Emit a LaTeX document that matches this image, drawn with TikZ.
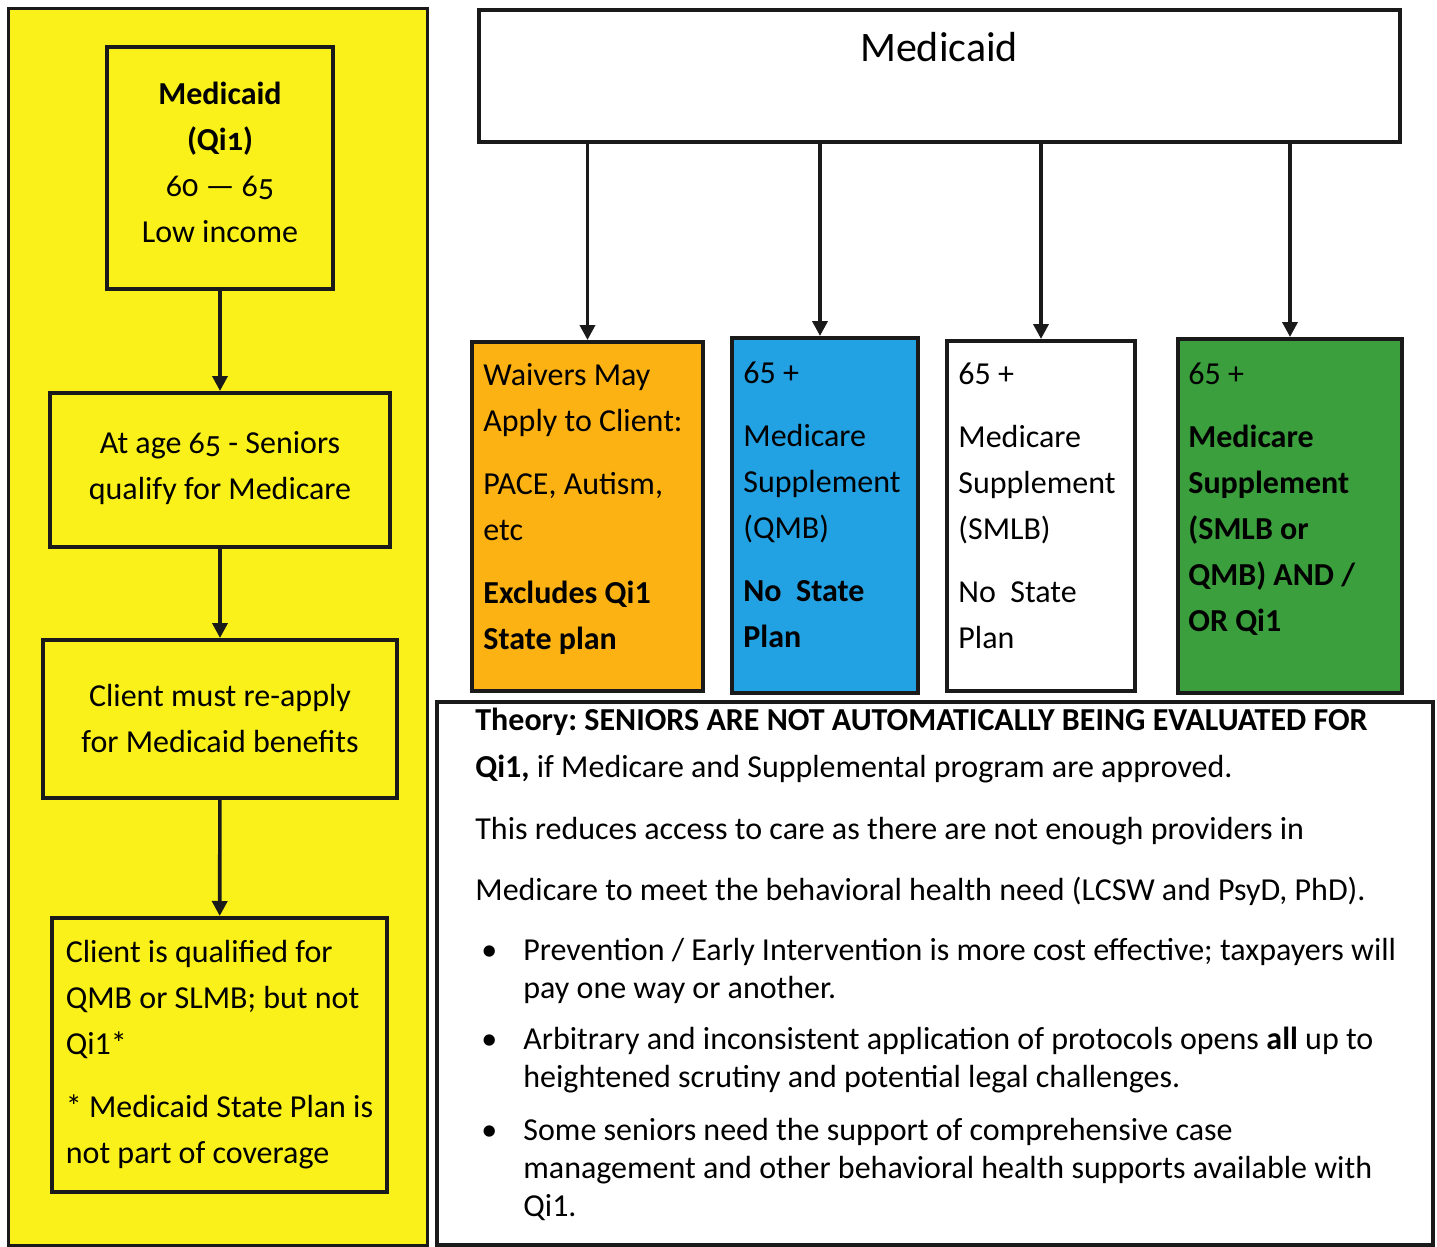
\documentclass[tikz,border=0pt]{standalone}
\usepackage{fontspec}
\setmainfont{Carlito}
\newfontfamily\candfont[Numbers=OldStyle]{Carlito}
\usepackage{tikz}
\usetikzlibrary{arrows.meta, positioning}
\definecolor{mcYellow}{HTML}{FAF01A}
\definecolor{mcOrange}{HTML}{FCB212}
\definecolor{mcBlue}{HTML}{22A1E3}
\definecolor{mcGreen}{HTML}{3A9F3C}
\definecolor{mcLine}{HTML}{1A1A1A}
\frenchspacing

\begin{document}
\begin{tikzpicture}[x=0.5pt, y=-0.5pt,
  font=\fontsize{16}{23}\selectfont,
  box/.style={draw=mcLine, line width=2pt, inner sep=0pt},
  flow/.style={box, fill=mcYellow, align=center, font=\candfont\fontsize{16}{23}\selectfont},
  colbox/.style={box, fill=#1},
  boxtext/.style={anchor=north west, inner sep=0pt, align=left},
  arr/.style={-{Triangle[length=7.5pt,width=7.5pt]}, draw=mcLine, line width=1.8pt},
]
\fill[white] (0,0) rectangle (1437,1247);
\useasboundingbox (0,0) rectangle (1437,1247);

% left panel: path of a client
\node[box, line width=1.5pt, fill=mcYellow, minimum width=209.5pt, minimum height=618pt] (panel) at (217.5,627) {};
\node[flow, minimum width=113pt, minimum height=121pt] (qi) at (220,168)
  {\bfseries Medicaid\\\bfseries (Qi1)\\60 — 65\\Low income\\[-17pt]\mbox{}};
\node[flow, minimum width=170pt, minimum height=77pt] (age) at (220,470)
  {At age 65 - Seniors\\qualify for Medicare\\[-18pt]\mbox{}};
\node[flow, minimum width=177pt, minimum height=79pt] (reapply) at (220,719)
  {Client must re-apply\\for Medicaid benefits};
\node[box, fill=mcYellow, align=left, minimum width=167.5pt, minimum height=137pt] (qual) at (219.5,1055)
  {Client is qualified for\\QMB or SLMB; but not\\Qi1*\\[8.5pt]* Medicaid State Plan is\\not part of coverage};

\draw[arr] (qi) -- (age);
\draw[arr] (age) -- (reapply);
\draw[arr] (reapply) -- (qual);

% Medicaid and its four branches
\node[box, fill=white, minimum width=460.5pt, text height=26pt, text depth=40pt,
  font=\fontsize{21}{25}\selectfont] (mcd) at (939,76) {Medicaid};

\node[colbox=mcOrange, minimum width=115.5pt, minimum height=174.5pt] (waiv) at (587.5,516.5) {};
\node[colbox=mcBlue, minimum width=93pt, minimum height=177.5pt] (qmb) at (825,515.5) {};
\node[colbox=white, minimum width=94pt, minimum height=175pt] (smlb) at (1041,516) {};
\node[colbox=mcGreen, minimum width=112pt, minimum height=177pt] (both) at (1290,516) {};

\node[boxtext] (waivtext) at ([shift={(13,13)}]waiv.north west)
  {\strut Waivers May\\Apply to Client:\\[8.5pt]PACE, Autism,\\etc\\[8.5pt]\bfseries Excludes Qi1\\\bfseries State plan};
\node[boxtext] (qmbtext) at ([shift={(13,15)}]qmb.north west)
  {\strut 65 +\\[8.5pt]Medicare\\Supplement\\(QMB)\\[8.5pt]\bfseries No~ State\\\bfseries Plan};
\node[boxtext] (smlbtext) at ([shift={(13,13)}]smlb.north west)
  {\strut 65 +\\[8.5pt]Medicare\\Supplement\\(SMLB)\\[8.5pt]No~ State\\Plan};
\node[boxtext, font=\bfseries\fontsize{16}{23}\selectfont] (bothtext) at ([shift={(12,15)}]both.north west)
  {\strut\mdseries 65 +\\[8.5pt]Medicare\\Supplement\\(SMLB or\\QMB) AND /\\OR Qi1};

\coordinate (qmbin) at ([xshift=-2.5pt]qmb.north);
\draw[arr] (mcd.south -| waiv.north) -- (waiv.north);
\draw[arr] (mcd.south -| qmbin) -- (qmbin);
\draw[arr] (mcd.south -| smlb.north) -- (smlb.north);
\draw[arr] (mcd.south -| both.north) -- (both.north);

% theory
\node[box, fill=white, minimum width=498pt, minimum height=271.5pt] (theory) at (935,973.5) {};
\node[boxtext, font=\fontsize{16}{19}\selectfont] (theorytext) at ([shift={(40,3)}]theory.north west)
  {\strut\bfseries Theory: SENIORS ARE NOT AUTOMATICALLY BEING EVALUATED FOR\\[4.5pt]
   {\bfseries Qi1,} if Medicare and Supplemental program are approved.\\[12pt]
   This reduces access to care as there are not enough providers in\\[11.5pt]
   Medicare to meet the behavioral health need (LCSW and PsyD, PhD).\\[11pt]
   \hspace*{3pt}\makebox[21pt][l]{\textbullet}Prevention / Early Intervention is more cost effective; taxpayers will\\
   \hspace*{24pt}pay one way or another.\\[6.5pt]
   \hspace*{3pt}\makebox[21pt][l]{\textbullet}Arbitrary and inconsistent application of protocols opens {\bfseries all} up to\\
   \hspace*{24pt}heightened scrutiny and potential legal challenges.\\[7.5pt]
   \hspace*{3pt}\makebox[21pt][l]{\textbullet}Some seniors need the support of comprehensive case\\
   \hspace*{24pt}management and other behavioral health supports available with\\
   \hspace*{24pt}Qi1.};
\end{tikzpicture}
\end{document}
